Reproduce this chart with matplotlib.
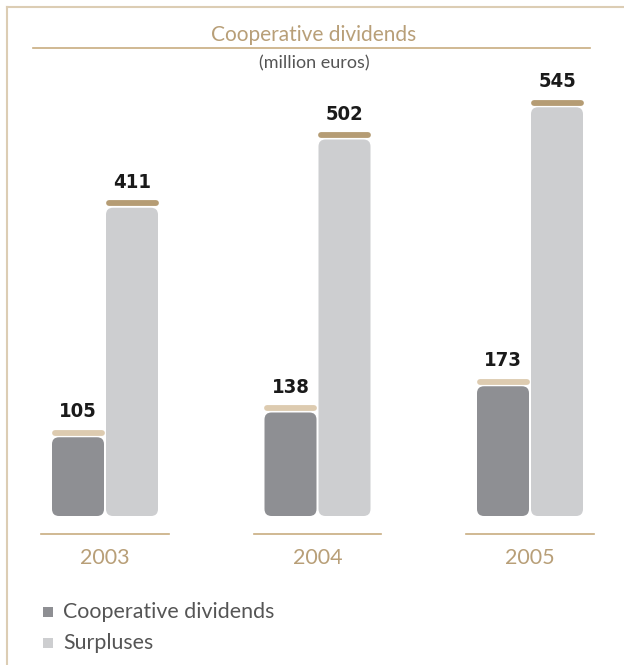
import matplotlib.pyplot as plt
from matplotlib.patches import FancyBboxPatch, Rectangle
from matplotlib.lines import Line2D
import numpy as np

years = ["2003", "2004", "2005"]
dividends = [105, 138, 173]
surpluses = [411, 502, 545]

W, H = 624, 665
fig = plt.figure(figsize=(W / 100, H / 100), dpi=100)
ax = fig.add_axes([0, 0, 1, 1])
ax.axis("off")

# scale: one group = 212.5 px, one unit = 0.75 px, baseline at 516 px from top
gpx, upx, base = 212.5, 0.75, 516
ax.set_xlim(-105 / gpx, (W - 105) / gpx)
ax.set_ylim(-(H - base) / upx, base / upx)

dark, light = "#8e8f93", "#cdced0"
cap_dark, cap_light = "#ddcbb0", "#b59c74"
tan = "#b89f78"

x = np.arange(len(years))
off, bw = 27 / gpx, 52 / gpx
r = 7 / gpx
aspect = gpx / upx

def rbar(xc, h, color):
    p = FancyBboxPatch((xc - bw / 2, 0), bw, h,
                       boxstyle=f"round,pad=0,rounding_size={r}",
                       mutation_aspect=aspect, fc=color, ec="none")
    ax.add_patch(p)

for i in range(len(years)):
    for xc, v, c, cc in [(x[i] - off, dividends[i], dark, cap_dark),
                         (x[i] + off, surpluses[i], light, cap_light)]:
        rbar(xc, v, c)
        ax.plot([xc - bw / 2 + 2.5 / gpx, xc + bw / 2 - 2.5 / gpx], [v + 6, v + 6],
                color=cc, lw=4.2, solid_capstyle="round")
        ax.annotate(str(v), (xc, v + 6), xytext=(0, 15), textcoords="offset points",
                    ha="center", va="center", fontsize=14.5, fontweight="bold",
                    fontstretch="condensed", family="DejaVu Sans", color="#1a1a1a")
    ax.plot([x[i] - 0.301, x[i] + 0.301], [-24, -24], color="#c8ad80", lw=1.2)
    ax.text(x[i], -56, years[i], ha="center", va="center", fontsize=15.5,
            color=tan, family="Lato")

# frame
fig.add_artist(Line2D([7 / W, 1], [1 - 7 / H, 1 - 7 / H], color="#dccdb4", lw=1.5))
fig.add_artist(Line2D([7 / W, 7 / W], [0, 1 - 7 / H], color="#dccdb4", lw=1.5))

# title
fig.text(314 / W, 1 - 35 / H, "Cooperative dividends", ha="center", va="center",
         fontsize=15, color=tan, family="Lato")
fig.add_artist(Line2D([33 / W, 590 / W], [1 - 48 / H, 1 - 48 / H], color="#c8ad80", lw=1.2))
fig.text(314 / W, 1 - 63 / H, "(million euros)", ha="center", va="center",
         fontsize=13, color="#555555", family="Lato")

# legend
for yy, c, lab in [(612, dark, "Cooperative dividends"), (643, light, "Surpluses")]:
    fig.add_artist(Rectangle((43 / W, 1 - (yy + 5) / H), 10 / W, 10 / H, fc=c, ec="none",
                             transform=fig.transFigure))
    fig.text(63 / W, 1 - yy / H, lab, ha="left", va="center", fontsize=15.4,
             color="#555555", family="Lato")

fig.savefig("out.png", dpi=100)
